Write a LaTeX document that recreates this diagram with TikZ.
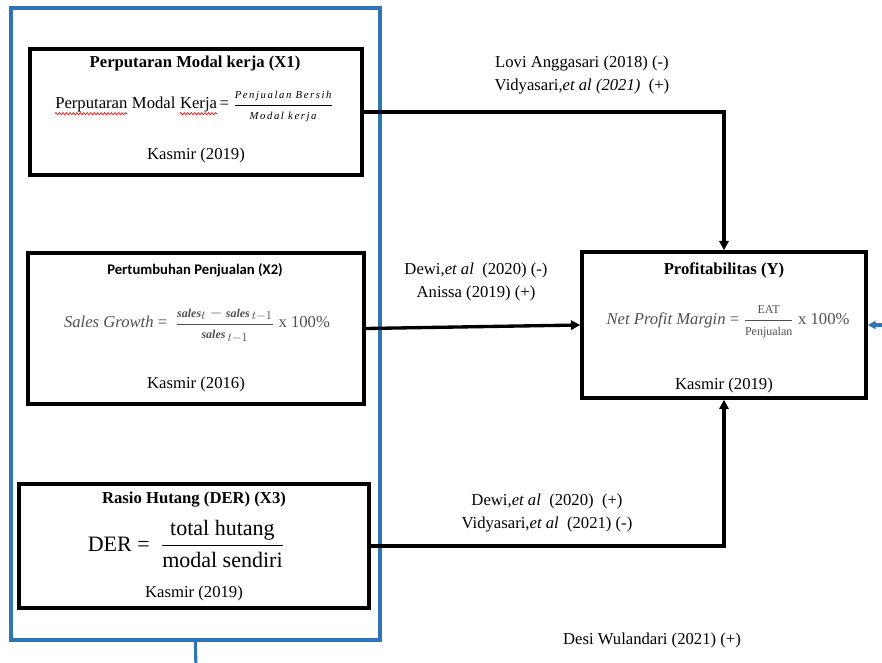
\documentclass[tikz,border=0pt]{standalone}
\usepackage{fontspec}
\setmainfont{Liberation Serif}
\newfontfamily\calibri{Carlito}
\newfontfamily\widemath[LetterSpace=15]{Liberation Serif}
\usepackage{amsmath}
\usetikzlibrary{arrows.meta,positioning,decorations.pathmorphing}
\definecolor{frameblue}{RGB}{46,117,182}
\definecolor{formgray}{RGB}{80,80,80}
\begin{document}
\begin{tikzpicture}[x=0.75pt,y=0.75pt,yscale=-1,
	varbox/.style={draw, line width=2.6pt, inner sep=0pt},
	frame/.style={draw=frameblue, line width=2.3pt},
	conn/.style={line width=2.5pt, -{Triangle[length=7pt,width=7pt]}},
	blueconn/.style={draw=frameblue, line width=2.3pt, -{Triangle[length=6pt,width=6pt]}},
	title/.style={font=\fontsize{12.5}{14}\selectfont\bfseries},
	cite/.style={font=\fontsize{12.5}{14}\selectfont},
	word/.style={cite, anchor=base west, inner sep=0pt},
	spellwave/.style={draw=red, line width=0.5pt, decorate, decoration={snake, amplitude=0.8pt, segment length=2.6pt}},
	refs/.style={font=\fontsize{12.5}{17}\selectfont, align=center}]
	\useasboundingbox (0,0) rectangle (882,663);
	
	%Blue frame round the independent variables
	\node[frame, minimum width=276.75pt, minimum height=474pt, inner sep=0pt] (frame) at (195.5,324) {};
	\coordinate (fdown) at (196,675);
	\draw[frame] (frame.south) -- (fdown);
	
	%Box X1
	\node[varbox, minimum width=249pt, minimum height=94.5pt] (x1) at (196,112) {};
	\node[title] (x1title) at (195,63) {Perputaran Modal kerja (X1)};
	\node[word] (x1w1) at (55,109) {Perputaran};
	\node[word] (x1w2) at ([xshift=3pt]x1w1.base east) {Modal};
	\node[word] (x1w3) at ([xshift=3pt]x1w2.base east) {Kerja};
	\node[word] (x1w4) at ([xshift=1.5pt]x1w3.base east) {= $\dfrac{\text{\widemath\fontsize{8}{9}\selectfont\itshape Penjualan Bersih}}{\text{\widemath\fontsize{8}{9}\selectfont\itshape Modal kerja}}$};
	\draw[spellwave] ([yshift=3.5pt]x1w1.base west) -- ([yshift=3.5pt]x1w1.base east);
	\draw[spellwave] ([yshift=3.5pt]x1w3.base west) -- ([yshift=3.5pt]x1w3.base east);
	\node[cite] (x1cite) at (196,155) {Kasmir (2019)};
	
	%Box X2
	\node[varbox, minimum width=252pt, minimum height=113.25pt] (x2) at (196,328.5) {};
	\node[font=\calibri\fontsize{11}{12}\selectfont\bfseries] (x2title) at (195,270) {Pertumbuhan Penjualan (X2)};
	\node[cite, text=formgray] (x2form) at (197,325) {\textit{Sales Growth} = \ $\dfrac{\text{\fontsize{9}{10}\selectfont\bfseries\itshape sales}_{t}-\text{\fontsize{9}{10}\selectfont\bfseries\itshape sales}_{\,t-1}}{\text{\fontsize{9}{10}\selectfont\bfseries\itshape sales}_{\,t-1}}$ x 100\%};
	\node[cite] (x2cite) at (196,384) {Kasmir (2016)};
	
	%Box X3
	\node[varbox, minimum width=262.5pt, minimum height=93pt] (x3) at (194,546) {};
	\node[title] (x3title) at (194,500) {Rasio Hutang (DER) (X3)};
	\node[font=\fontsize{16.5}{18}\selectfont] (x3form) at (186,544) {DER = \ $\dfrac{\text{total hutang}}{\text{modal sendiri}}$};
	\node[cite] (x3cite) at (194,593) {Kasmir (2019)};
	
	%Box Y
	\node[varbox, minimum width=213pt, minimum height=109.5pt] (y) at (724,325) {};
	\node[title] (ytitle) at (724,270) {Profitabilitas (Y)};
	\node[cite, text=formgray] (yform) at (728,322) {\textit{Net Profit Margin} = $\dfrac{\text{\fontsize{9}{10}\selectfont EAT}}{\text{\fontsize{9}{10}\selectfont Penjualan}}$ x 100\%};
	\node[cite] (ycite) at (724,385) {Kasmir (2019)};
	
	%Connectors
	\draw[conn] (x1.east) -| (y.north);
	\draw[conn] (x2.east) -- (y.west);
	\draw[conn] (x3.east) -| (y.south);
	\coordinate (fright) at (895,325);
	\draw[blueconn] (fright) -- (y.east);
	
	%Research references
	\node[refs] (r1) at (582,75) {Lovi Anggasari (2018) (-)\\Vidyasari,\textit{et al (2021)}\ \ (+)};
	\node[refs] (r2) at (476,282) {Dewi,\textit{et al}\ \ (2020) (-)\\Anissa (2019) (+)};
	\node[refs] (r3) at (547,513) {Dewi,\textit{et al}\ \ (2020)\ \ (+)\\Vidyasari,\textit{et al}\ \ (2021) (-)};
	\node[cite] (r4) at (652,640) {Desi Wulandari (2021) (+)};
\end{tikzpicture}
\end{document}
